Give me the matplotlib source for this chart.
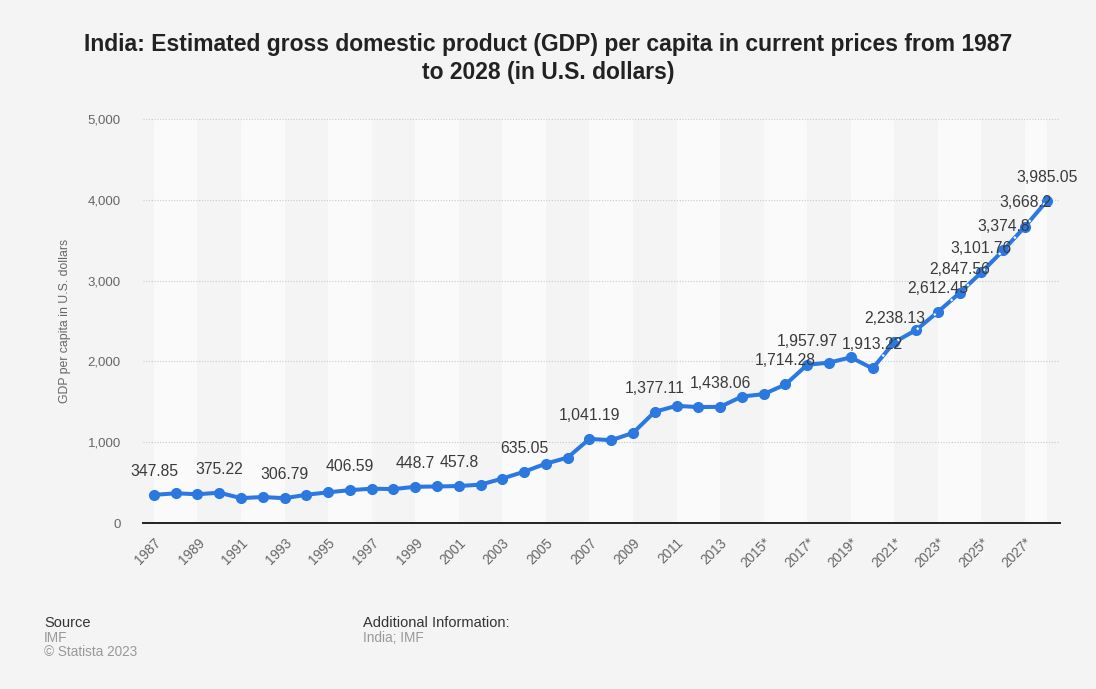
import matplotlib
matplotlib.use("Agg")
import matplotlib.pyplot as plt
import numpy as np

plt.rcParams['font.family'] = ['Liberation Sans', 'DejaVu Sans']

# GDP per capita, current US$ (IMF); 2015 onwards partly estimates/forecasts
years = list(range(1987, 2029))
gdp_per_capita = [
    347.85, 368, 356, 375.22, 308, 322, 306.79, 350, 380, 406.59,
    425, 420, 448.7, 452, 457.8, 475, 550, 635.05, 735, 810,
    1041.19, 1025, 1115, 1377.11, 1450, 1435, 1438.06, 1565, 1595, 1714.28,
    1957.97, 1985, 2050, 1913.22, 2238.13, 2388, 2612.45, 2847.56, 3101.76, 3374.8,
    3668.2, 3985.05,
]
# years whose value is printed above the point
labelled_years = [1987, 1990, 1993, 1996, 1999, 2001, 2004, 2007, 2010, 2013,
                  2016, 2017, 2020, 2021, 2023, 2024, 2025, 2026, 2027, 2028]
tick_years = list(range(1987, 2028, 2))
tick_labels = [f"{y}*" if y >= 2015 else str(y) for y in tick_years]
forecast_start = 2020

BG = '#f4f4f4'
BAND = '#fafafa'
BLUE = '#2a78e0'

fig = plt.figure(figsize=(10.96, 6.89), dpi=100, facecolor=BG)
ax = fig.add_axes([0.1305, 0.2409, 0.967 - 0.1305, 0.8273 - 0.2409])
ax.set_facecolor(BG)

# alternating light bands every two years
for start in range(1987, 2029, 4):
    ax.axvspan(start, min(start + 2, 2028), color=BAND, zorder=0, lw=0)

ax.set_xlim(1986.5, 2028.6)
ax.set_ylim(0, 5000)
ax.set_yticks([0, 1000, 2000, 3000, 4000, 5000])
ax.set_yticklabels(['0', '1,000', '2,000', '3,000', '4,000', '5,000'])
for y in [1000, 2000, 3000, 4000, 5000]:
    ax.axhline(y, color='#c8c8c8', lw=0.8, ls=(0, (1, 1.5)), zorder=1)

for side in ['top', 'right', 'left']:
    ax.spines[side].set_visible(False)
ax.spines['bottom'].set_color('#222222')
ax.spines['bottom'].set_linewidth(1.4)
ax.spines['bottom'].set_zorder(3)

ax.tick_params(axis='y', length=0, pad=16, labelsize=9.5, labelcolor='#666666')
ax.set_xticks(tick_years)
ax.set_xticklabels(tick_labels, rotation=45, ha='right', va='top',
                   rotation_mode='anchor')
ax.tick_params(axis='x', length=0, pad=9, labelsize=9.8, labelcolor='#666666')

ax.set_ylabel('GDP per capita in U.S. dollars', fontsize=8.8, color='#666666',
              labelpad=12)

yrs = np.array(years)
vals = np.array(gdp_per_capita)
ax.plot(yrs, vals, color=BLUE, lw=2.9, marker='o', markersize=7,
        solid_capstyle='round', zorder=4)
# forecast section drawn with small white gaps
mask = yrs >= forecast_start
ax.plot(yrs[mask], vals[mask], color='white', lw=1.6,
        ls=(3, (1, 9)), zorder=5)

for yr in labelled_years:
    v = gdp_per_capita[years.index(yr)]
    txt = f"{v:,.2f}".rstrip('0').rstrip('.')
    ax.annotate(txt, (yr, v), xytext=(0, 17), textcoords='offset points',
                ha='center', va='center', fontsize=11.3, color='#3a3a3a',
                zorder=6)

fig.text(0.5, 1 - 45 / 689,
         'India: Estimated gross domestic product (GDP) per capita in current prices from 1987',
         ha='center', va='center', fontsize=16.5, fontweight='bold', color='#222222')
fig.text(0.5, 1 - 72 / 689, 'to 2028 (in U.S. dollars)',
         ha='center', va='center', fontsize=16.5, fontweight='bold', color='#222222')

fig.text(44 / 1096, 1 - 623 / 689, 'Source', fontsize=10.5, color='#333333', va='center')
fig.text(44 / 1096, 1 - 638 / 689, 'IMF', fontsize=9.8, color='#999999', va='center')
fig.text(44 / 1096, 1 - 652 / 689, '\u00a9 Statista 2023', fontsize=9.8,
         color='#999999', va='center')
fig.text(363 / 1096, 1 - 623 / 689, 'Additional Information:', fontsize=10.5,
         color='#333333', va='center')
fig.text(363 / 1096, 1 - 638 / 689, 'India; IMF', fontsize=9.8, color='#999999',
         va='center')

fig.savefig('out.png', dpi=100, facecolor=BG)
